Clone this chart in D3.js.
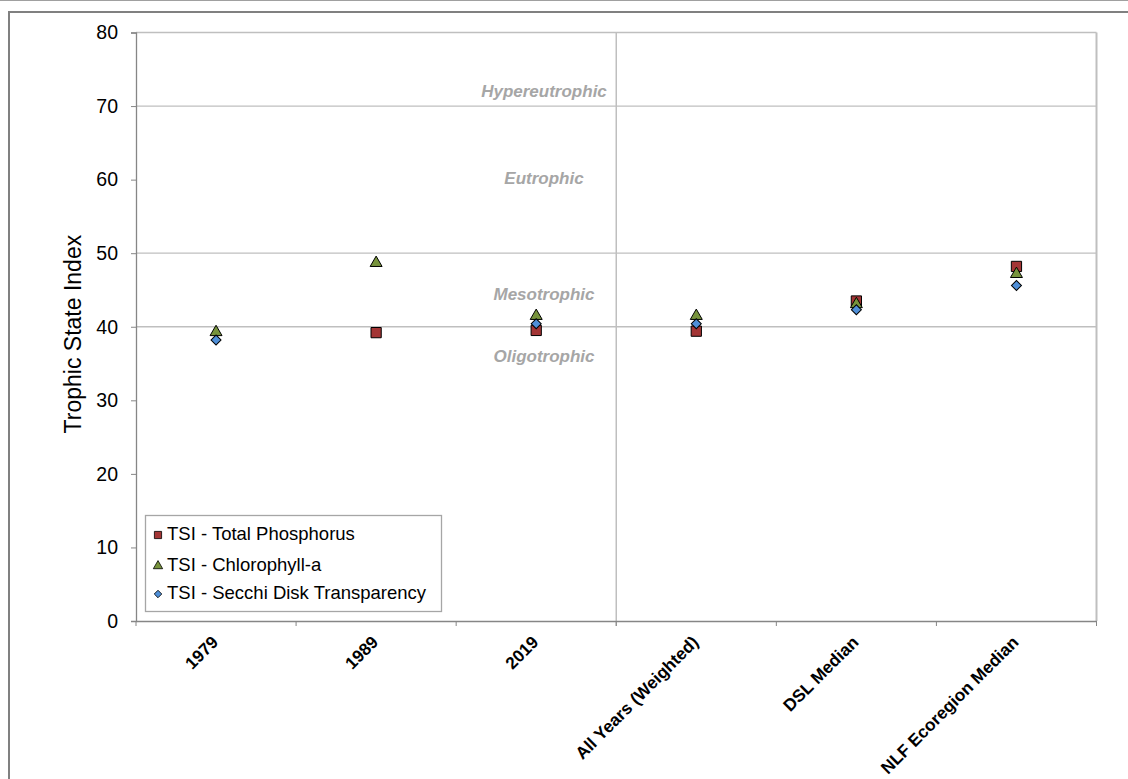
<!DOCTYPE html>
<html><head><meta charset="utf-8">
<script src="https://cdn.jsdelivr.net/npm/d3@7"></script>
<style>body{margin:0;background:#fff}svg{display:block}text{font-family:"Liberation Sans",Arial,sans-serif}</style>
</head><body><svg id="c" width="1128" height="779"></svg>
<script>
const categories = ["1979","1989","2019","All Years (Weighted)","DSL Median","NLF Ecoregion Median"];
const tsiPhosphorus = [null, 39.2, 39.5, 39.4, 43.5, 48.2];
const tsiChlorophyll = [39.4, 48.8, 41.6, 41.6, 43.2, 47.3];
const tsiSecchi = [38.2, null, 40.4, 40.4, 42.3, 45.6];
const yTicks = [0,10,20,30,40,50,60,70,80];
const gridValues = [40,50,70];
const zones = [{name:"Hypereutrophic", v:71.8},{name:"Eutrophic", v:60},{name:"Mesotrophic", v:44.2},{name:"Oligotrophic", v:35.8}];
const seriesNames = ["TSI - Total Phosphorus","TSI - Chlorophyll-a","TSI - Secchi Disk Transparency"];

const svg = d3.select("#c");
const L=136, R=1096.5, T=32.5, B=621;
const x = d3.scaleBand().domain(categories).range([L,R]).padding(0);
const y = d3.scaleLinear().domain([0,80]).range([B,T]);
const FONT = "'Liberation Sans',Arial,sans-serif";

// outer frame
svg.append("line").attr("x1",0).attr("x2",1128).attr("y1",0.5).attr("y2",0.5).attr("stroke","#a0a0a0");
svg.append("path").attr("d","M9,779 V12 H1128").attr("fill","none").attr("stroke","#808080").attr("stroke-width",2);

// gridlines
svg.selectAll(".g").data(gridValues).enter().append("line")
  .attr("x1",L).attr("x2",R).attr("y1",d=>y(d)).attr("y2",d=>y(d))
  .attr("stroke","#bfbfbf").attr("stroke-width",1.3);
svg.append("line").attr("x1",L).attr("x2",R).attr("y1",T).attr("y2",T).attr("stroke","#bfbfbf").attr("stroke-width",1.3);
svg.append("line").attr("x1",R).attr("x2",R).attr("y1",T).attr("y2",B).attr("stroke","#bfbfbf").attr("stroke-width",2);
const divX = x("All Years (Weighted)");
svg.append("line").attr("x1",divX).attr("x2",divX).attr("y1",T).attr("y2",B+5).attr("stroke","#bfbfbf").attr("stroke-width",1.5);

// zone labels
svg.selectAll(".z").data(zones).enter().append("text")
  .attr("x",544).attr("y",d=>y(d.v)).attr("text-anchor","middle").attr("dominant-baseline","middle")
  .attr("font-size",17).attr("font-weight","bold").attr("font-style","italic").attr("fill","#a6a6a6")
  .text(d=>d.name);

// y axis
const yAxis = svg.append("g").attr("transform",`translate(${L},0)`)
  .call(d3.axisLeft(y).tickValues(yTicks).tickSize(5).tickPadding(13));
yAxis.select(".domain").attr("stroke","#868686").attr("stroke-width",1.3);
yAxis.selectAll(".tick line").attr("stroke","#868686");
yAxis.selectAll("text").attr("font-size",19.5).attr("fill","#000").style("font-family",FONT);

// x axis
const xAxis = svg.append("g").attr("transform",`translate(0,${B})`)
  .call(d3.axisBottom(x).tickSize(0).tickFormat(""));
xAxis.select(".domain").attr("stroke","#868686").attr("stroke-width",1.3);
const bounds = categories.map(c=>x(c)).concat([R]);
svg.selectAll(".xt").data(bounds).enter().append("line")
  .attr("x1",d=>d).attr("x2",d=>d).attr("y1",B).attr("y2",B+5).attr("stroke","#868686");
svg.selectAll(".xl").data(categories).enter().append("text")
  .attr("transform",d=>`translate(${x(d)+x.bandwidth()/2},${B+19}) rotate(-45)`)
  .attr("text-anchor","end").attr("dominant-baseline","middle")
  .attr("font-size",17.2).attr("font-weight","bold").attr("fill","#000").text(d=>d);

// y title
svg.append("text").attr("transform",`translate(81,${y(39)}) rotate(-90)`)
  .attr("text-anchor","middle").attr("font-size",23).attr("fill","#000").text("Trophic State Index");

// markers
const colors = ["#a33535","#77933c","#4f8fd8"];
const symDefs = [
  {vals:tsiPhosphorus, sym:d3.symbol().type(d3.symbolSquare).size(105), rot:0, dy:0},
  {vals:tsiChlorophyll, sym:d3.symbol().type(d3.symbolTriangle).size(62), rot:0, dy:1},
  {vals:tsiSecchi, sym:d3.symbol().type(d3.symbolSquare).size(50), rot:45, dy:0}
];
symDefs.forEach((s,si)=>{
  svg.append("g").selectAll("path")
    .data(categories.map((c,i)=>({c,v:s.vals[i]})).filter(d=>d.v!=null))
    .enter().append("path")
    .attr("transform",d=>`translate(${x(d.c)+x.bandwidth()/2},${y(d.v)+s.dy}) rotate(${s.rot})`)
    .attr("d",s.sym).attr("fill",colors[si]).attr("stroke","#000").attr("stroke-width",1);
});

// legend
const lg = svg.append("g");
lg.append("rect").attr("x",145.5).attr("y",515.5).attr("width",296).attr("height",96)
  .attr("fill","#fff").attr("stroke","#a6a6a6").attr("stroke-width",1.3);
const ly = [535,566,594];
const lsyms = [
  {s:d3.symbol().type(d3.symbolSquare).size(52), r:0},
  {s:d3.symbol().type(d3.symbolTriangle).size(38), r:0},
  {s:d3.symbol().type(d3.symbolSquare).size(28), r:45}];
seriesNames.forEach((n,i)=>{
  lg.append("path").attr("d",lsyms[i].s())
    .attr("transform",`translate(158,${ly[i]}) rotate(${lsyms[i].r})`)
    .attr("fill",colors[i]).attr("stroke","#000").attr("stroke-width",0.8);
  lg.append("text").attr("x",167).attr("y",ly[i]).attr("dominant-baseline","middle")
    .attr("font-size",18.5).attr("fill","#000").text(n);
});
</script>
</body></html>
